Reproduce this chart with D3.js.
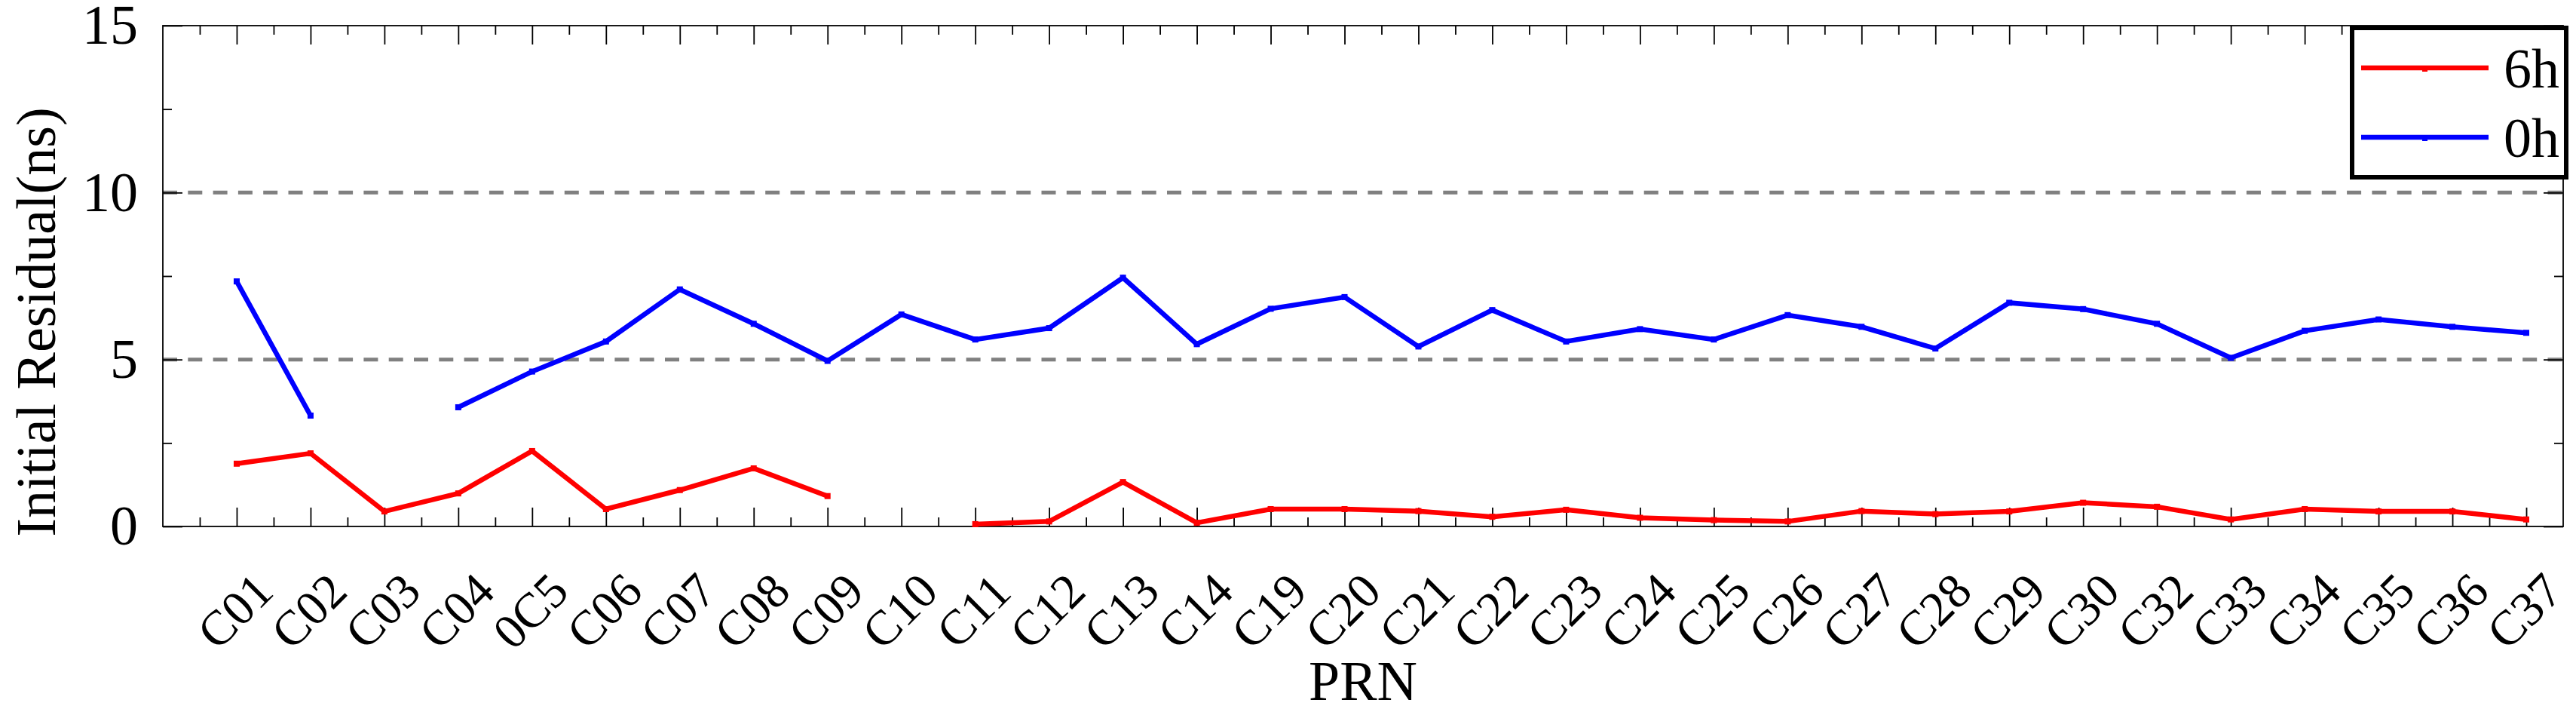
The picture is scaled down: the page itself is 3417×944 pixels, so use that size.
<!DOCTYPE html>
<html>
<head>
<meta charset="utf-8">
<script src="https://cdn.jsdelivr.net/npm/d3@7"></script>
<style>
  body { margin: 0; background: #fff; }
  svg { display: block; }
</style>
</head>
<body>
<svg id="chart" width="3417" height="944"></svg>
<script>
// satellites on the x axis
const categories = ["C01", "C02", "C03", "C04", "0C5", "C06", "C07", "C08", "C09", "C10",
  "C11", "C12", "C13", "C14", "C19", "C20", "C21", "C22", "C23", "C24", "C25", "C26",
  "C27", "C28", "C29", "C30", "C32", "C33", "C34", "C35", "C36", "C37"];

// initial residual (ns), null = no value
const sixH = [1.88, 2.19, 0.45, 0.99, 2.26, 0.52, 1.09, 1.74, 0.91, null,
  0.07, 0.15, 1.33, 0.11, 0.52, 0.52, 0.46, 0.29, 0.50, 0.26, 0.19, 0.15,
  0.46, 0.37, 0.45, 0.71, 0.59, 0.21, 0.52, 0.45, 0.45, 0.21];
const zeroH = [7.34, 3.32, null, 3.57, 4.64, 5.54, 7.10, 6.07, 4.96, 6.35,
  5.60, 5.94, 7.45, 5.46, 6.52, 6.87, 5.39, 6.48, 5.54, 5.91, 5.60, 6.33,
  5.98, 5.33, 6.70, 6.51, 6.07, 5.05, 5.86, 6.20, 5.98, 5.80];

const yTicks = [0, 5, 10, 15];
const yMinorTicks = [2.5, 7.5, 12.5];
const gridLevels = [5, 10];
const seriesNames = ["6h", "0h"];
const seriesColors = ["#ff0000", "#0000ff"];

const FONT = "Liberation Serif";
const FONT_SIZE = "74px";

const margin = { left: 216, top: 34, right: 17, bottom: 246 };
const W = 3417, H = 944;
const width = W - margin.left - margin.right;
const height = H - margin.top - margin.bottom;

const svg = d3.select("#chart");
const g = svg.append("g").attr("transform", `translate(${margin.left},${margin.top})`);

const x = d3.scaleLinear().domain([0, 32.5]).range([0, width]);
const y = d3.scaleLinear().domain([0, 15]).range([height, 0]);

const majorX = d3.range(1, categories.length + 1);
const minorX = d3.range(0.5, categories.length + 0.5, 1);

// dashed reference lines
g.selectAll("line.grid")
  .data(gridLevels)
  .enter()
  .append("line")
  .attr("class", "grid")
  .attr("x1", 0)
  .attr("x2", width)
  .attr("y1", d => y(d))
  .attr("y2", d => y(d))
  .attr("stroke", "#808080")
  .attr("stroke-width", 5)
  .attr("stroke-dasharray", "19 14.3");

function styleAxis(sel) {
  sel.attr("font-family", FONT).attr("font-size", FONT_SIZE);
  sel.select(".domain").remove();
  sel.selectAll(".tick line").attr("stroke", "#000").attr("stroke-width", 1.8);
  sel.selectAll(".tick text").attr("fill", "#000");
}

// bottom axis with labels (rotated, a bit smaller)
const xAxis = g.append("g")
  .attr("transform", `translate(0,${height})`)
  .call(d3.axisBottom(x).tickValues(majorX).tickSizeInner(-25).tickSizeOuter(0)
    .tickFormat(d => categories[d - 1]))
  .call(styleAxis)
  .attr("font-size", "65px");
xAxis.selectAll(".tick text")
  .attr("x", null)
  .attr("y", null)
  .attr("dy", "0.34em")
  .attr("transform", "translate(-3,112) rotate(-45)")
  .attr("text-anchor", "middle");

g.append("g")
  .attr("transform", `translate(0,${height})`)
  .call(d3.axisBottom(x).tickValues(minorX).tickSize(-12).tickFormat(""))
  .call(styleAxis);

// top axis
g.append("g")
  .call(d3.axisTop(x).tickValues(majorX).tickSize(-25).tickFormat(""))
  .call(styleAxis);
g.append("g")
  .call(d3.axisTop(x).tickValues(minorX).tickSize(-12).tickFormat(""))
  .call(styleAxis);

// left axis
g.append("g")
  .call(d3.axisLeft(y).tickValues(yTicks).tickSizeInner(-26).tickSizeOuter(0).tickPadding(33))
  .call(styleAxis);
g.append("g")
  .call(d3.axisLeft(y).tickValues(yMinorTicks).tickSize(-12).tickFormat(""))
  .call(styleAxis);

// right axis
g.append("g")
  .attr("transform", `translate(${width},0)`)
  .call(d3.axisRight(y).tickValues(yTicks).tickSize(-26).tickFormat(""))
  .call(styleAxis);
g.append("g")
  .attr("transform", `translate(${width},0)`)
  .call(d3.axisRight(y).tickValues(yMinorTicks).tickSize(-12).tickFormat(""))
  .call(styleAxis);

// frame
g.append("rect")
  .attr("width", width)
  .attr("height", height)
  .attr("fill", "none")
  .attr("stroke", "#000")
  .attr("stroke-width", 1.8);

// series
const line = d3.line()
  .defined(d => d != null)
  .x((d, i) => x(i + 1))
  .y(d => y(d));

[sixH, zeroH].forEach((values, k) => {
  g.append("path")
    .datum(values)
    .attr("d", line)
    .attr("fill", "none")
    .attr("stroke", seriesColors[k])
    .attr("stroke-width", 6.5)
    .attr("stroke-linejoin", "miter");
  g.selectAll(null)
    .data(values.map((v, i) => [i + 1, v]).filter(d => d[1] != null))
    .enter()
    .append("rect")
    .attr("x", d => x(d[0]) - 4)
    .attr("y", d => y(d[1]) - 4)
    .attr("width", 8)
    .attr("height", 8)
    .attr("fill", seriesColors[k]);
});

// axis titles
svg.append("text")
  .attr("transform", "translate(73,427) rotate(-90)")
  .attr("text-anchor", "middle")
  .attr("font-family", FONT)
  .attr("font-size", FONT_SIZE)
  .text("Initial Residual(ns)");

svg.append("text")
  .attr("x", margin.left + width / 2)
  .attr("y", 928)
  .attr("text-anchor", "middle")
  .attr("font-family", FONT)
  .attr("font-size", FONT_SIZE)
  .text("PRN");

// legend
const legend = svg.append("g").attr("transform", "translate(3120,37)");
legend.append("rect")
  .attr("width", 284)
  .attr("height", 198)
  .attr("fill", "#fff")
  .attr("stroke", "#000")
  .attr("stroke-width", 6);
const rows = legend.selectAll("g.row")
  .data(seriesNames)
  .enter()
  .append("g")
  .attr("class", "row")
  .attr("transform", (d, i) => `translate(0,${53 + i * 92})`);
rows.append("line")
  .attr("x1", 12)
  .attr("x2", 181)
  .attr("stroke", (d, i) => seriesColors[i])
  .attr("stroke-width", 6.5);
rows.append("rect")
  .attr("x", 93)
  .attr("y", -2)
  .attr("width", 7)
  .attr("height", 7)
  .attr("fill", (d, i) => seriesColors[i]);
rows.append("text")
  .attr("x", 201)
  .attr("y", 26)
  .attr("font-family", FONT)
  .attr("font-size", FONT_SIZE)
  .text(d => d);
</script>
</body>
</html>
